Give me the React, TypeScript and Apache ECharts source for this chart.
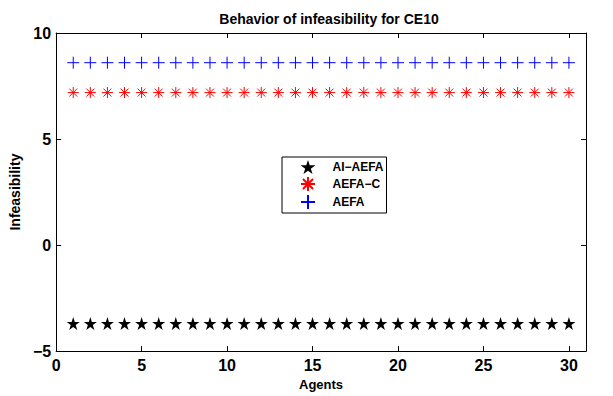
import React, { useEffect, useRef } from "react";
import * as echarts from "echarts";

const agents: number[] = Array.from({ length: 30 }, (_, i) => i + 1);
const seriesNames = ["AI\u2212AEFA", "AEFA\u2212C", "AEFA"];
const aiAefa: number[] = [-3.7, -3.7, -3.7, -3.7, -3.7, -3.7, -3.7, -3.7, -3.7, -3.7, -3.7, -3.7, -3.7, -3.7, -3.7, -3.7, -3.7, -3.7, -3.7, -3.7, -3.7, -3.7, -3.7, -3.7, -3.7, -3.7, -3.7, -3.7, -3.7, -3.7];
const aefaC: number[] = [7.19, 7.19, 7.19, 7.19, 7.19, 7.19, 7.19, 7.19, 7.19, 7.19, 7.19, 7.19, 7.19, 7.19, 7.19, 7.19, 7.19, 7.19, 7.19, 7.19, 7.19, 7.19, 7.19, 7.19, 7.19, 7.19, 7.19, 7.19, 7.19, 7.19];
const aefa: number[] = [8.6, 8.6, 8.6, 8.6, 8.6, 8.6, 8.6, 8.6, 8.6, 8.6, 8.6, 8.6, 8.6, 8.6, 8.6, 8.6, 8.6, 8.6, 8.6, 8.6, 8.6, 8.6, 8.6, 8.6, 8.6, 8.6, 8.6, 8.6, 8.6, 8.6];

const STAR = "path://M0,-10L2.245,-3.09L9.511,-3.09L3.633,1.18L5.878,8.09L0,3.82L-5.878,8.09L-3.633,1.18L-9.511,-3.09L-2.245,-3.09Z";
const ASTERISK = "path://M-5,0L5,0M0,-5L0,5M-3.6,-3.6L3.6,3.6M-3.6,3.6L3.6,-3.6";
const PLUS = "path://M-5,0L5,0M0,-5L0,5";

const FONT = "'Liberation Sans', Arial, Helvetica, sans-serif";

export default function App() {
  const ref = useRef<HTMLDivElement>(null);
  useEffect(() => {
    if (!ref.current) return;
    const chart = echarts.init(ref.current, undefined, { renderer: "svg" });
    const pair = (ys: number[]) => agents.map((x, i) => [x, ys[i]]);
    const tickCommon = {
      axisLine: { show: true, onZero: false, lineStyle: { color: "#000", width: 1 } },
      axisTick: { show: true, inside: true, length: 5, lineStyle: { color: "#000" } },
      splitLine: { show: false },
    };
    chart.setOption({
      animation: false,
      backgroundColor: "#fff",
      textStyle: { fontFamily: FONT },
      title: {
        text: "Behavior of infeasibility for CE10",
        left: 324,
        textAlign: "center",
        top: 7,
        textStyle: { fontSize: 14, fontWeight: "bold", color: "#000", fontFamily: FONT },
      },
      grid: { left: 56, right: 27, top: 33, bottom: 44, containLabel: false },
      legend: {
        orient: "vertical",
        left: 282,
        top: 157,
        padding: [3, 3, 3, 18],
        itemWidth: 39,
        itemHeight: 14,
        itemGap: 2,
        backgroundColor: "#fff",
        borderColor: "#000",
        borderWidth: 1,
        borderRadius: 0,
        textStyle: { fontSize: 12, fontWeight: "bold", color: "#000", fontFamily: FONT },
        data: seriesNames,
      },
      xAxis: [
        {
          type: "value",
          min: 0,
          max: 31,
          interval: 5,
          name: "Agents",
          nameLocation: "middle",
          nameGap: 21,
          nameTextStyle: { fontSize: 13, fontWeight: "bold", color: "#000" },
          axisLabel: {
            color: "#000",
            fontSize: 16,
            fontWeight: "bold",
            margin: 6,
            formatter: (v: number) => (v % 5 === 0 ? String(v) : ""),
          },
          ...tickCommon,
        },
        {
          type: "value",
          position: "top",
          min: 0,
          max: 31,
          interval: 5,
          axisLabel: { show: false },
          ...tickCommon,
        },
      ],
      yAxis: [
        {
          type: "value",
          min: -5,
          max: 10,
          interval: 5,
          name: "Infeasibility",
          nameLocation: "middle",
          nameGap: 33,
          nameTextStyle: { fontSize: 14, fontWeight: "bold", color: "#000" },
          axisLabel: {
            color: "#000",
            fontSize: 16,
            fontWeight: "bold",
            margin: 5,
            formatter: (v: number) => String(v).replace("-", "\u2212"),
          },
          ...tickCommon,
        },
        {
          type: "value",
          position: "right",
          min: -5,
          max: 10,
          interval: 5,
          axisLabel: { show: false },
          ...tickCommon,
        },
      ],
      series: [
        {
          name: seriesNames[0],
          type: "scatter",
          data: pair(aiAefa),
          symbol: STAR,
          symbolSize: 13,
          itemStyle: { color: "#000", opacity: 1 },
        },
        {
          name: seriesNames[1],
          type: "scatter",
          data: pair(aefaC),
          symbol: ASTERISK,
          symbolSize: 11,
          itemStyle: { color: "#ff0000", borderColor: "#ff0000", borderWidth: 1, opacity: 1 },
        },
        {
          name: seriesNames[2],
          type: "scatter",
          data: pair(aefa),
          symbol: PLUS,
          symbolSize: 12,
          itemStyle: { color: "#0000ff", borderColor: "#0000ff", borderWidth: 1, opacity: 1 },
        },
      ],
    });
    return () => chart.dispose();
  }, []);
  return <div ref={ref} style={{ width: 613, height: 396, position: "absolute", left: 0, top: 0 }} />;
}
